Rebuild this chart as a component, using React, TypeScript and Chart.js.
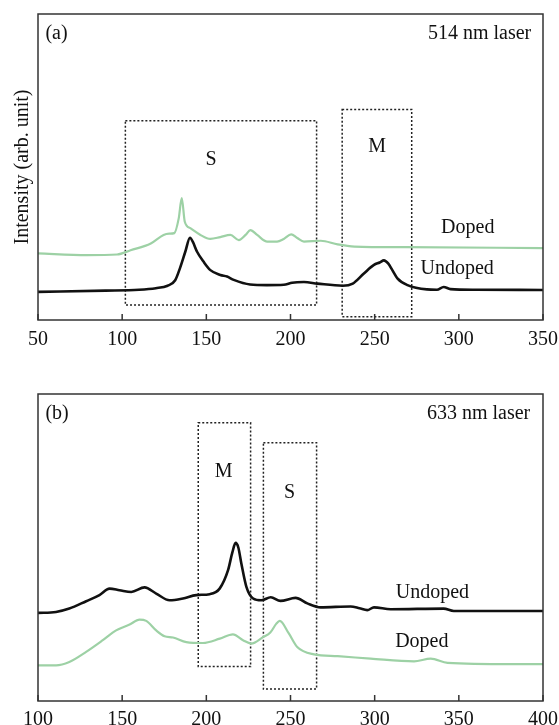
import React, { useEffect, useRef } from "react";
import { Chart, registerables } from "chart.js";

Chart.register(...registerables);

const FONT = "'Liberation Serif', 'Times New Roman', serif";
const GREEN = "#9dd1a5";
const BLACK = "#111111";

// ---- Panel (a): 514 nm laser ----
const aTicks = [50, 100, 150, 200, 250, 300, 350];
const aUndopedX = [50, 90, 110, 120, 127, 131.5, 134.5, 137.5, 140.3, 142, 144.5, 148.4, 152.4, 158.3, 162.3, 166.3, 176, 186, 196, 201, 208, 216, 231, 237, 243.6, 249.6, 253, 255.5, 258, 260.5, 263.5, 269.5, 281, 287, 291, 295, 310, 350];
const aUndopedY = [9.2, 9.6, 9.9, 10.4, 11.2, 13.0, 17.2, 22.3, 26.9, 25.5, 22.3, 19.0, 16.3, 14.7, 14.2, 13.1, 11.6, 11.4, 11.5, 12.2, 12.4, 11.9, 11.2, 11.9, 15.2, 18.0, 18.8, 19.5, 18.5, 16.3, 13.6, 11.4, 10.0, 9.9, 10.8, 10.1, 9.9, 9.8];
const aDopedX = [50, 79, 97, 105, 117, 124.6, 128, 131, 133.6, 135.4, 137.2, 140.5, 146.5, 152.4, 158.3, 164.3, 169.3, 173.3, 176.2, 180.2, 186.2, 192, 196, 200.4, 204, 208, 218, 228, 238, 268, 350];
const aDopedY = [21.8, 21.2, 21.4, 22.8, 25.0, 27.8, 28.2, 28.4, 33.2, 39.8, 32.1, 30.0, 27.8, 26.5, 27.1, 27.8, 26.1, 27.8, 29.4, 27.8, 25.6, 25.6, 26.5, 28.0, 26.8, 25.6, 25.9, 24.7, 24.0, 23.8, 23.5];
const aBoxes = [
  { x0: 101.9, x1: 215.5, y0: 4.9, y1: 65.1 },
  { x0: 230.7, x1: 272, y0: 1.1, y1: 68.8 },
];
const aLabels = [
  { text: "(a)", x: 54.4, y: 93.7, align: "left" },
  { text: "514 nm laser", x: 343, y: 93.7, align: "right" },
  { text: "S", x: 152.8, y: 52.3, align: "center" },
  { text: "M", x: 251.5, y: 56.6, align: "center" },
  { text: "Doped", x: 305.3, y: 30.2, align: "center" },
  { text: "Undoped", x: 299, y: 16.8, align: "center" },
];

// ---- Panel (b): 633 nm laser ----
const bTicks = [100, 150, 200, 250, 300, 350, 400];
const bUndopedX = [100, 110.7, 118.6, 128.6, 136.5, 142.5, 148.4, 155.4, 163.3, 170.2, 178.2, 186.1, 194, 202, 207.9, 212.9, 215.5, 217.4, 219, 220.8, 223.8, 227.8, 232.7, 238.3, 244, 253, 260, 267.9, 285.7, 291, 295.6, 299.6, 309.5, 341, 347, 400];
const bUndopedY = [28.7, 29.0, 30.1, 32.5, 34.5, 36.6, 36.1, 35.5, 37.0, 35.0, 32.8, 33.4, 34.5, 34.8, 36.6, 42.6, 48.5, 51.5, 50.0, 44.8, 37.2, 33.4, 32.8, 33.8, 32.6, 33.6, 31.8, 30.5, 30.8, 30.2, 29.6, 30.5, 29.9, 30.1, 29.3, 29.3];
const bDopedX = [100, 110.7, 118.6, 128.6, 138.5, 146.4, 154.4, 160.3, 164.3, 170.2, 175.2, 180.2, 188.1, 198, 208, 215.8, 221.8, 226.7, 233.7, 238, 241.6, 243.6, 249, 254, 264, 278, 297.6, 323.4, 333.3, 343.3, 381, 400];
const bDopedY = [11.6, 11.6, 12.7, 16.0, 19.8, 23.0, 24.9, 26.5, 26.1, 23.0, 21.1, 20.7, 19.2, 18.9, 20.3, 21.7, 19.8, 18.7, 20.8, 22.3, 25.2, 26.1, 22.0, 17.6, 15.2, 14.6, 13.8, 12.9, 13.8, 12.4, 12.0, 12.0];
const bBoxes = [
  { x0: 195.2, x1: 226.3, y0: 11.2, y1: 90.6 },
  { x0: 233.9, x1: 265.5, y0: 3.9, y1: 84.1 },
];
const bLabels = [
  { text: "(b)", x: 104.4, y: 93.5, align: "left" },
  { text: "633 nm laser", x: 392.4, y: 93.5, align: "right" },
  { text: "M", x: 210.3, y: 74.8, align: "center" },
  { text: "S", x: 249.5, y: 67.8, align: "center" },
  { text: "Undoped", x: 334.3, y: 35.3, align: "center" },
  { text: "Doped", x: 328, y: 19.4, align: "center" },
];

function pts(xs: number[], ys: number[]) {
  return xs.map((x, i) => ({ x, y: ys[i] }));
}

type PanelProps = {
  top: number;
  height: number;
  xMin: number;
  xMax: number;
  ticks: number[];
  undopedX: number[];
  undopedY: number[];
  dopedX: number[];
  dopedY: number[];
  boxes: { x0: number; x1: number; y0: number; y1: number }[];
  labels: { text: string; x: number; y: number; align: string }[];
  yTitle: string;
  tickPad: number;
  axisHeight: number;
  padding: { left: number; right: number; top: number; bottom: number };
};

function Panel(p: PanelProps) {
  const ref = useRef<HTMLCanvasElement>(null);
  useEffect(() => {
    const canvas = ref.current!;
    const decor = {
      id: "decor",
      beforeDatasetsDraw(chart: any) {
        const { ctx } = chart;
        const xs = chart.scales.x;
        const ys = chart.scales.y;
        ctx.save();
        ctx.setLineDash([2, 2]);
        ctx.lineWidth = 1.5;
        ctx.strokeStyle = "#222";
        p.boxes.forEach((b) => {
          const l = xs.getPixelForValue(b.x0);
          const r = xs.getPixelForValue(b.x1);
          const t = ys.getPixelForValue(b.y1);
          const bt = ys.getPixelForValue(b.y0);
          ctx.strokeRect(l, t, r - l, bt - t);
        });
        ctx.restore();
      },
      afterDatasetsDraw(chart: any) {
        const { ctx, chartArea } = chart;
        const xs = chart.scales.x;
        const ys = chart.scales.y;
        ctx.save();
        ctx.setLineDash([]);
        ctx.strokeStyle = "#333";
        ctx.lineWidth = 1.5;
        ctx.strokeRect(chartArea.left, chartArea.top, chartArea.right - chartArea.left, chartArea.bottom - chartArea.top);
        p.ticks.forEach((t) => {
          const x = xs.getPixelForValue(t);
          ctx.beginPath();
          ctx.moveTo(x, chartArea.bottom);
          ctx.lineTo(x, chartArea.bottom - 6);
          ctx.stroke();
        });
        ctx.fillStyle = "#111";
        ctx.font = `20px ${FONT}`;
        ctx.textBaseline = "middle";
        p.labels.forEach((lb) => {
          ctx.textAlign = lb.align as CanvasTextAlign;
          ctx.fillText(lb.text, xs.getPixelForValue(lb.x), ys.getPixelForValue(lb.y));
        });
        ctx.restore();
      },
    };
    const hasTitle = !!p.yTitle;
    const chart = new Chart(canvas, {
      type: "line",
      data: {
        datasets: [
          {
            label: "Doped",
            data: pts(p.dopedX, p.dopedY),
            borderColor: GREEN,
            borderWidth: 2.2,
            pointRadius: 0,
            cubicInterpolationMode: "monotone",
          },
          {
            label: "Undoped",
            data: pts(p.undopedX, p.undopedY),
            borderColor: BLACK,
            borderWidth: 2.6,
            pointRadius: 0,
            cubicInterpolationMode: "monotone",
          },
        ],
      },
      options: {
        responsive: false,
        maintainAspectRatio: false,
        animation: false,
        layout: { padding: p.padding },
        plugins: { legend: { display: false }, tooltip: { enabled: false } },
        scales: {
          x: {
            type: "linear",
            min: p.xMin,
            max: p.xMax,
            grid: { display: false, drawTicks: false },
            border: { display: false },
            afterBuildTicks: (axis: any) => {
              axis.ticks = p.ticks.map((v) => ({ value: v }));
            },
            afterFit: (axis: any) => {
              axis.height = p.axisHeight;
              axis.paddingLeft = 0;
              axis.paddingRight = 0;
            },
            ticks: {
              font: { family: FONT, size: 20, lineHeight: 0.8 },
              color: "#111",
              padding: p.tickPad,
              maxRotation: 0,
              autoSkip: false,
            },
          },
          y: {
            min: 0,
            max: 100,
            display: hasTitle,
            grid: { display: false, drawTicks: false },
            border: { display: false },
            ticks: { display: false },
            afterFit: (axis: any) => {
              axis.width = hasTitle ? 27 : 0;
              axis.paddingTop = 0;
              axis.paddingBottom = 0;
            },
            title: {
              display: hasTitle,
              text: p.yTitle,
              color: "#111",
              font: { family: FONT, size: 20, lineHeight: 1.2 },
              padding: { top: 0, bottom: 3 },
            },
          },
        },
      },
      plugins: [decor],
    } as any);
    return () => chart.destroy();
  }, []);
  return (
    <canvas
      ref={ref}
      width={559}
      height={p.height}
      style={{ position: "absolute", left: 0, top: p.top, width: 559, height: p.height }}
    />
  );
}

export default function App() {
  return (
    <div style={{ position: "fixed", left: 0, top: 0, width: 559, height: 725, overflow: "hidden", background: "#fff" }}>
      <Panel
        top={0}
        height={355}
        xMin={50}
        xMax={350}
        ticks={aTicks}
        undopedX={aUndopedX}
        undopedY={aUndopedY}
        dopedX={aDopedX}
        dopedY={aDopedY}
        boxes={aBoxes}
        labels={aLabels}
        yTitle="Intensity (arb. unit)"
        tickPad={12}
        axisHeight={34}
        padding={{ left: 11, right: 16, top: 14, bottom: 1 }}
      />
      <Panel
        top={355}
        height={370}
        xMin={100}
        xMax={400}
        ticks={bTicks}
        undopedX={bUndopedX}
        undopedY={bUndopedY}
        dopedX={bDopedX}
        dopedY={bDopedY}
        boxes={bBoxes}
        labels={bLabels}
        yTitle=""
        tickPad={11}
        axisHeight={24}
        padding={{ left: 38, right: 16, top: 39, bottom: 0 }}
      />
    </div>
  );
}
